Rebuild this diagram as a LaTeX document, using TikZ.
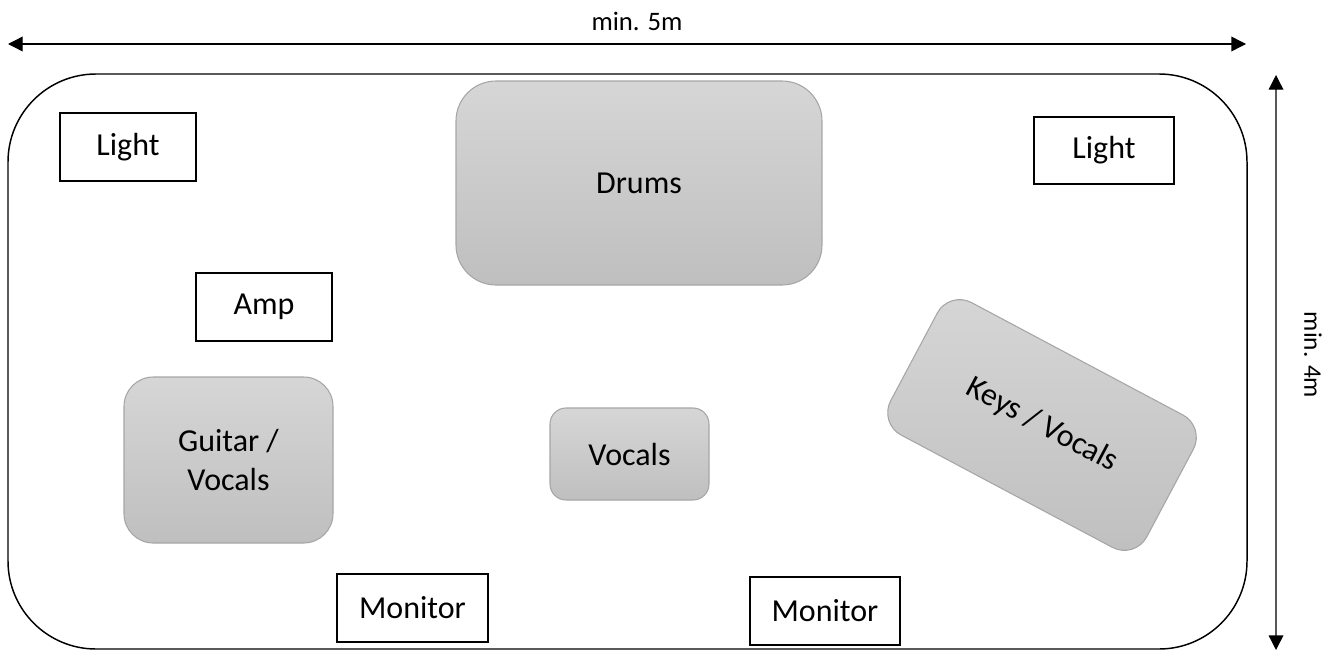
\documentclass[tikz,border=0pt]{standalone}
\usepackage{fontspec}
\setmainfont{Carlito}
\usepackage{xcolor}
\usetikzlibrary{arrows.meta,positioning}
\definecolor{padtop}{HTML}{D6D6D6}
\definecolor{padbot}{HTML}{BFBFBF}
\definecolor{padline}{HTML}{A6A6A6}
\definecolor{dimgray}{HTML}{595959}

\begin{document}
\begin{tikzpicture}[x=0.75pt,y=-0.75pt,
  gear/.style={rectangle,draw=black,line width=1.1pt,inner sep=0pt,font=\fontsize{24}{28}\selectfont},
  pad/.style={rectangle,draw=padline,line width=0.8pt,top color=padtop,bottom color=padbot,inner sep=0pt,align=center,font=\fontsize{24}{29}\selectfont},
  dimlabel/.style={inner sep=0pt,font=\fontsize{20}{22}\selectfont}]
  \useasboundingbox (0,0) rectangle (1344,650);
  % stage
  \draw[line width=1.1pt,rounded corners=66pt] (8,74) rectangle (1247,649);
  % dimensions
  \coordinate (wl) at (8,44);
  \coordinate (wr) at (1246,44);
  \coordinate (ht) at (1276,75);
  \coordinate (hb) at (1276,650);
  \draw[line width=1pt,{Triangle[length=11pt,width=11pt]}-{Triangle[length=11pt,width=11pt]}] (wl) -- (wr);
  \draw[line width=1pt,dimgray,{Triangle[length=11pt,width=11pt,black]}-{Triangle[length=11pt,width=11pt,black]}] (ht) -- (hb);
  \node[dimlabel] (wd) at (637,21){min. 5m};
  \node[dimlabel,rotate=-90,font=\fontsize{19}{21}\selectfont] (hd) at (1313,355){min. 4m};
  % band
  \node[pad,minimum width=274.5pt,minimum height=153pt,rounded corners=30pt] (dr) at (639,183){Drums};
  \node[pad,minimum width=156.75pt,minimum height=124.5pt,rounded corners=22pt] (gv) at (228.5,460){Guitar /\\Vocals};
  \node[pad,minimum width=119.25pt,minimum height=69pt,rounded corners=12pt] (vo) at (629.5,454){Vocals};
  \node[pad,minimum width=217.5pt,minimum height=112.5pt,rounded corners=19pt,rotate=-28,shading angle=0] (kv) at (1042,425){Keys / Vocals};
  % equipment
  \node[gear,minimum width=102pt,minimum height=51pt] (ll) at (128,147){Light};
  \node[gear,minimum width=105pt,minimum height=50pt] (lr) at (1104,150.5){Light};
  \node[gear,minimum width=102pt,minimum height=51pt] (am) at (264,307){Amp};
  \node[gear,minimum width=113pt,minimum height=51pt] (ml) at (412.5,608){Monitor};
  \node[gear,minimum width=112.5pt,minimum height=51pt] (mr) at (825,611){Monitor};
\end{tikzpicture}
\end{document}
